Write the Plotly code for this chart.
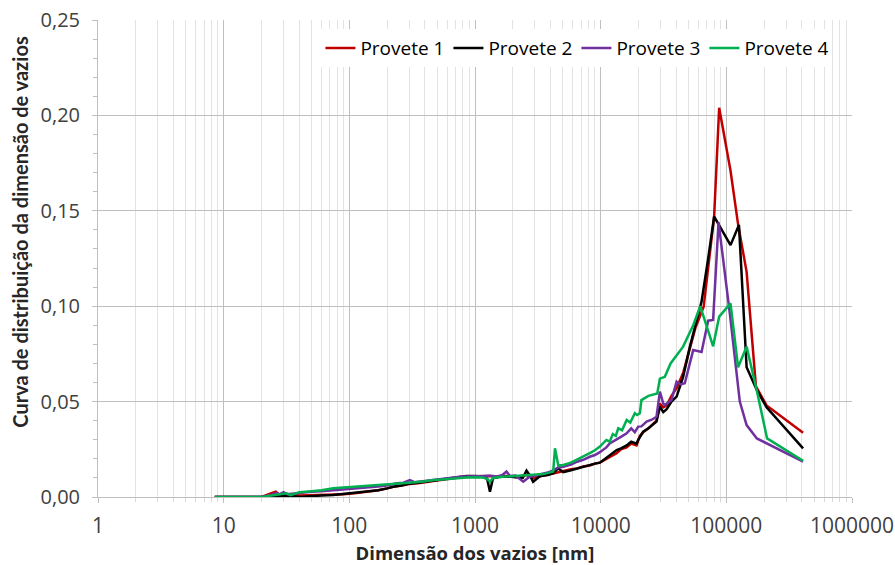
import plotly.graph_objects as go

# ---- data ----
x_p1 = [8.5, 20, 24, 26, 28, 32, 40, 50, 60, 75, 90, 110, 137, 170, 200, 223, 260, 300, 350, 400,
        466, 550, 650, 760, 857, 1000, 1150, 1315, 1500, 1780, 2100, 2570, 2900, 3300, 3800, 4190,
        4600, 5040, 5800, 6500, 7260, 8200, 9000, 9860, 11100, 12000, 13400, 14500, 16100, 17500,
        19300, 20500, 21800, 24000, 26000, 27800, 29600, 31500, 33500, 36600, 40200, 45300, 51300,
        57000, 66000, 80000, 87700, 108000, 124000, 145000, 172000, 209000, 408000]
y_p1 = [0, 0, 0.002, 0.0028, 0.001, 0.0015, 0.0008, 0.001, 0.0012, 0.0012, 0.0015, 0.002, 0.0026,
        0.0035, 0.0045, 0.0054, 0.006, 0.0068, 0.0072, 0.0078, 0.0085, 0.0092, 0.0098, 0.0103, 0.0106,
        0.0108, 0.011, 0.011, 0.0108, 0.011, 0.0105, 0.0115, 0.0100, 0.0110, 0.0118, 0.0123, 0.013,
        0.0135, 0.0145, 0.0150, 0.016, 0.0165, 0.0175, 0.018, 0.0200, 0.021, 0.0230, 0.025, 0.026,
        0.028, 0.027, 0.032, 0.034, 0.036, 0.038, 0.040, 0.049, 0.047, 0.048, 0.053, 0.057, 0.065,
        0.078, 0.089, 0.0997, 0.147, 0.204, 0.171, 0.143, 0.118, 0.058, 0.048, 0.0337]

x_p2 = [8.5, 20, 26, 32, 40.5, 50, 60, 74.5, 90, 110, 137, 170, 200, 223, 260, 300, 350, 400, 466,
        550, 650, 760, 857, 1000, 1150, 1250, 1315, 1390, 1550, 1780, 2100, 2400, 2570, 2750, 2900,
        3300, 3800, 4190, 4600, 5040, 5800, 6500, 7260, 8200, 9000, 9860, 11100, 12000, 13400, 14500,
        16100, 17500, 19300, 19900, 21800, 24000, 26000, 27800, 29600, 31500, 33500, 36600, 40200,
        45300, 51300, 57000, 63500, 71700, 80000, 108000, 126000, 145000, 175000, 209000, 408000]
y_p2 = [0, 0, 0.0005, 0.0008, 0, 0.0005, 0.0008, 0.001, 0.0015, 0.002, 0.0028, 0.0035, 0.0045,
        0.0054, 0.006, 0.007, 0.0075, 0.008, 0.0089, 0.0095, 0.0101, 0.0106, 0.011, 0.011, 0.0108,
        0.0095, 0.0028, 0.0098, 0.0105, 0.0108, 0.0105, 0.0100, 0.0138, 0.0110, 0.0080, 0.0110,
        0.0115, 0.0125, 0.0150, 0.0130, 0.014, 0.0150, 0.016, 0.0168, 0.0175, 0.0180, 0.0205, 0.022,
        0.0246, 0.0255, 0.027, 0.029, 0.028, 0.0299, 0.0342, 0.036, 0.038, 0.0395, 0.0473, 0.0445,
        0.046, 0.050, 0.0526, 0.063, 0.0788, 0.090, 0.1024, 0.125, 0.147, 0.132, 0.1426, 0.068,
        0.056, 0.047, 0.0255]

x_p3 = [8.5, 20, 24, 26, 28, 30, 32, 40, 50, 60, 74.5, 90, 110, 137, 170, 198, 240, 270, 303, 330,
        400, 466, 550, 650, 760, 857, 1000, 1150, 1315, 1500, 1650, 1780, 1900, 2100, 2420, 2700,
        3000, 3300, 3800, 4190, 4600, 5040, 5800, 6500, 7260, 8200, 9000, 9860, 11100, 11800, 13400,
        14500, 16100, 17500, 18700, 19900, 21100, 23200, 25500, 27800, 29600, 31500, 32400, 36600,
        40200, 43000, 46700, 54500, 63500, 71700, 78500, 86700, 106700, 128000, 145000, 175000, 408000]
y_p3 = [0, 0, 0.001, 0.002, 0.0015, 0.0025, 0.0015, 0.0022, 0.0028, 0.003, 0.0035, 0.0038, 0.0042,
        0.005, 0.0055, 0.006, 0.0072, 0.0075, 0.0089, 0.0078, 0.0085, 0.0092, 0.0098, 0.0103, 0.0106,
        0.0108, 0.0110, 0.0110, 0.0112, 0.0108, 0.0115, 0.0133, 0.011, 0.0112, 0.0080, 0.0105, 0.0112,
        0.0118, 0.0128, 0.014, 0.0155, 0.0159, 0.017, 0.0185, 0.0195, 0.0211, 0.022, 0.0235, 0.026,
        0.0281, 0.030, 0.0315, 0.0334, 0.036, 0.034, 0.0369, 0.037, 0.0395, 0.0405, 0.042, 0.0552,
        0.049, 0.0482, 0.0508, 0.0605, 0.059, 0.0596, 0.077, 0.076, 0.0924, 0.0928, 0.144, 0.096,
        0.05, 0.0377, 0.0307, 0.0185]

x_p4 = [8.5, 20, 24, 28, 31.7, 34, 40, 50, 60, 74.5, 90, 110, 137, 198, 250, 300, 400, 466, 550, 650,
        760, 857, 1030, 1150, 1250, 1315, 1390, 1550, 1780, 2140, 2600, 3000, 3500, 4190, 4330, 4600,
        5040, 5800, 6500, 7260, 8200, 9000, 9860, 11100, 11800, 12500, 13200, 13800, 14800, 16100,
        17200, 18700, 19500, 20500, 21100, 24000, 28200, 29600, 32400, 36000, 40200, 45300, 54500,
        62000, 78500, 87700, 108000, 124000, 145000, 175000, 211000, 408000]
y_p4 = [0, 0, 0.0008, 0.0012, 0.0019, 0.001, 0.0025, 0.003, 0.0035, 0.0046, 0.005, 0.0053, 0.0057,
        0.0063, 0.0068, 0.0075, 0.0082, 0.0089, 0.0092, 0.0096, 0.0099, 0.0102, 0.0103, 0.0102,
        0.0095, 0.0080, 0.0100, 0.0105, 0.0107, 0.011, 0.0112, 0.0115, 0.012, 0.0133, 0.0255, 0.0165,
        0.0168, 0.018, 0.0195, 0.0211, 0.023, 0.0245, 0.0264, 0.0299, 0.029, 0.033, 0.032, 0.036,
        0.035, 0.0404, 0.039, 0.0439, 0.043, 0.0439, 0.0508, 0.053, 0.0543, 0.062, 0.063, 0.070,
        0.0744, 0.0788, 0.090, 0.100, 0.079, 0.0945, 0.1015, 0.068, 0.0788, 0.0556, 0.0307, 0.019]

series_names = ["Provete 1", "Provete 2", "Provete 3", "Provete 4"]
series_colors = ["#C00000", "#000000", "#7030A0", "#00B050"]

x_tickvals = [1, 10, 100, 1000, 10000, 100000, 1000000]
x_ticktext = ["1", "10", "100", "1000", "10000", "100000", "1000000"]
y_tickvals = [0, 0.05, 0.10, 0.15, 0.20, 0.25]

x_title = "Dimensão dos vazios [nm]"
y_title = "Curva de distribuição da dimensão de vazios"

FONT = "Open Sans"

fig = go.Figure()
for xs, ys, name, col in zip([x_p1, x_p2, x_p3, x_p4], [y_p1, y_p2, y_p3, y_p4],
                             series_names, series_colors):
    fig.add_trace(go.Scatter(x=xs, y=ys, mode="lines", name=name,
                             line=dict(color=col, width=2.5)))

minor_x = [m * 10 ** e for e in range(0, 6) for m in range(2, 10)]

fig.update_layout(
    width=895, height=565,
    margin=dict(l=98, r=43, t=20, b=68, autoexpand=False),
    paper_bgcolor="white", plot_bgcolor="white",
    separators=",.",
    font=dict(family=FONT, size=19, color="#404040"),
    showlegend=True,
    legend=dict(orientation="h", x=0.295, xanchor="left", y=0.981, yanchor="top",
                bgcolor="white", borderwidth=0,
                font=dict(family=FONT, size=19, color="#000000"),
                itemwidth=30, entrywidth=83, entrywidthmode="pixels",
                traceorder="normal"),
    annotations=[dict(text="<b>" + y_title + "</b>", textangle=-90,
                      xref="paper", yref="paper", x=-0.103, y=0.557,
                      xanchor="center", yanchor="middle", showarrow=False,
                      font=dict(family="Lato", size=20, color="#262626"))],
)
fig.update_xaxes(
    type="log", range=[0, 6], automargin=False,
    tickmode="array", tickvals=x_tickvals, ticktext=x_ticktext,
    ticks="outside", ticklen=5, tickcolor="#bfbfbf", ticklabelstandoff=5,
    ticklabeloverflow="allow",
    showgrid=True, gridcolor="#bfbfbf", gridwidth=1,
    showline=True, linecolor="#bfbfbf", linewidth=1,
    minor=dict(tickmode="array", tickvals=minor_x, ticks="outside", ticklen=4,
               tickcolor="#d9d9d9", showgrid=True, gridcolor="#e3e3e3", gridwidth=1),
    zeroline=False,
    title=dict(text="<b>" + x_title + "</b>", standoff=8,
               font=dict(family=FONT, size=18.5, color="#262626")),
    tickfont=dict(family=FONT, size=21, color="#404040"),
)
fig.update_yaxes(
    range=[0, 0.25], tickmode="array", tickvals=y_tickvals, tickformat=".2f",
    automargin=False,
    ticks="outside", ticklen=5, tickcolor="#bfbfbf", ticklabelstandoff=8,
    ticklabeloverflow="allow",
    showgrid=True, gridcolor="#bfbfbf", gridwidth=1,
    showline=True, linecolor="#bfbfbf", linewidth=1,
    minor=dict(dtick=0.01, ticks="outside", ticklen=4, tickcolor="#bfbfbf", showgrid=False),
    zeroline=False,
    tickfont=dict(family=FONT, size=20, color="#404040"),
)

# remove the default page margin so the figure sits at the window's top-left corner
fig.write_html("out.html", config={"displayModeBar": False},
               post_script="document.body.style.margin='0';")
